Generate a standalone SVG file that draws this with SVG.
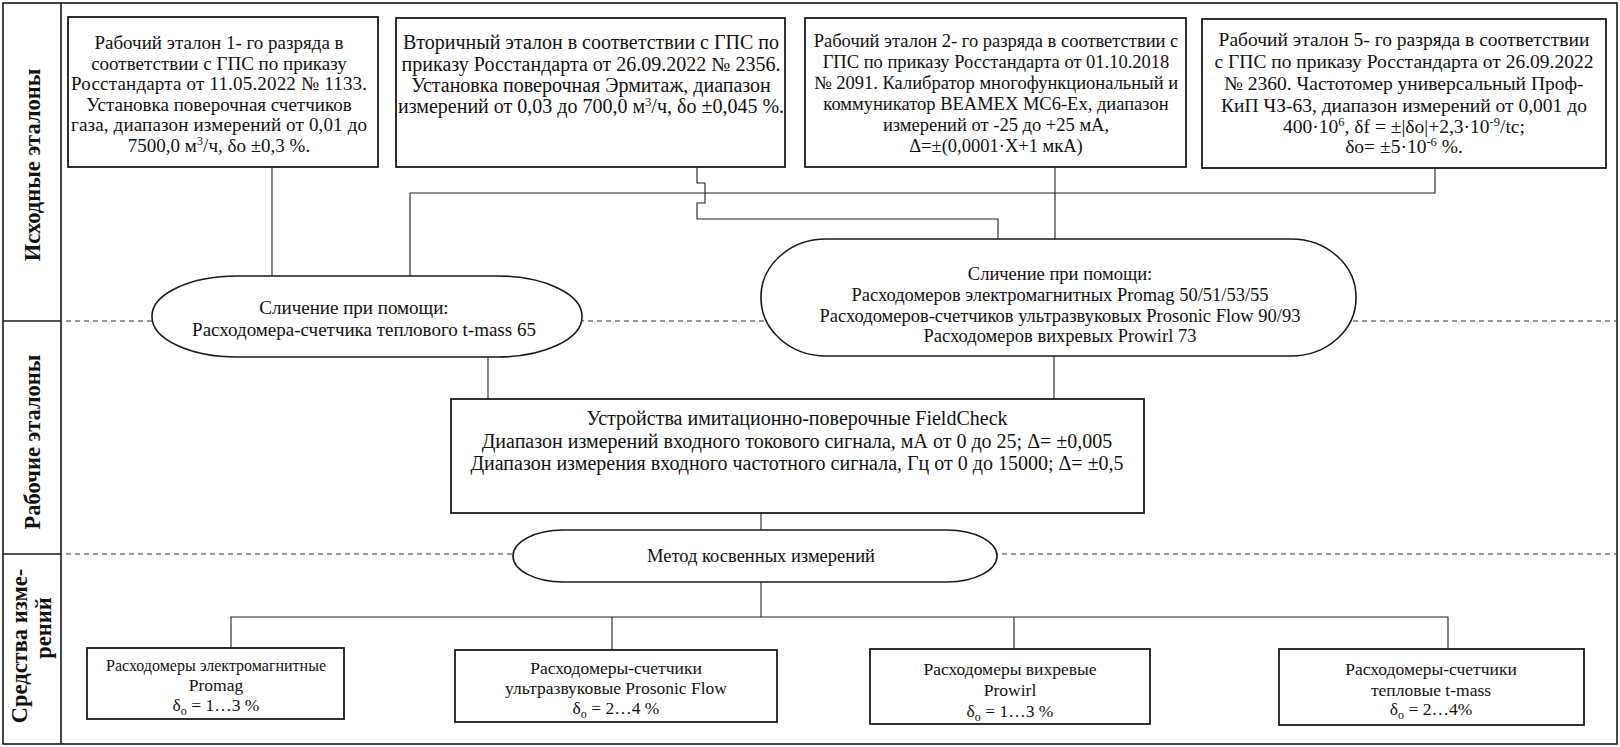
<svg xmlns="http://www.w3.org/2000/svg" width="1620" height="747" viewBox="0 0 1620 747">
<style>
.bx{fill:#fff;stroke:#1a1a1a;stroke-width:1.8}
.el{fill:#fff;stroke:#1a1a1a;stroke-width:1.6}
.cn{fill:none;stroke:#222;stroke-width:1.1}
.dash{fill:none;stroke:#333;stroke-width:1;stroke-dasharray:5 4}
.fr{fill:none;stroke:#1a1a1a;stroke-width:1.6}
text{font-family:"Liberation Serif","Times New Roman",serif;font-size:18.5px;fill:#111;text-anchor:middle}
text.lbl{font-weight:bold;font-size:22.5px}
.t19 text{font-size:19px}
.t195 text{font-size:19.5px}
.t20 text{font-size:20px}
.sm text{font-size:17.5px}
tspan.sup{font-size:12.5px}
tspan.sub{font-size:12px}
</style>
<rect x="0" y="0" width="1620" height="747" fill="#fff"/>
<g id="frame">
<rect class="fr" x="3" y="3" width="1614" height="741"/>
<line class="fr" x1="61" y1="3" x2="61" y2="744"/>
<line class="fr" x1="3" y1="321" x2="61" y2="321"/>
<line class="fr" x1="3" y1="554" x2="61" y2="554"/>
<line class="dash" x1="66" y1="321" x2="1617" y2="321"/>
<line class="dash" x1="66" y1="554" x2="1617" y2="554"/>
<text class="lbl" transform="translate(32,165) rotate(-90)" y="8">Исходные эталоны</text>
<text class="lbl" transform="translate(32,442) rotate(-90)" y="8">Рабочие эталоны</text>
<text class="lbl" transform="translate(19,646) rotate(-90)" y="8">Средства изме-</text>
<text class="lbl" transform="translate(43,628) rotate(-90)" y="8">рений</text>
</g>
<g id="connectors">
<polyline class="cn" points="272,167 272,276"/>
<polyline class="cn" points="1435,168 1435,193 410,193 410,276"/>
<polyline class="cn" points="697,167 697,183 705,183 705,203 697,203 697,219 998,219 998,239"/>
<polyline class="cn" points="1055,167 1055,239"/>
<polyline class="cn" points="488,357 488,399"/>
<polyline class="cn" points="1054,356 1054,399"/>
<polyline class="cn" points="761,513 761,530"/>
<polyline class="cn" points="761,582 761,617"/>
<polyline class="cn" points="231,648 231,617 1448,617 1448,649"/>
<polyline class="cn" points="612,617 612,650"/>
<polyline class="cn" points="1014,617 1014,649"/>
</g>
<g id="src1" class="t19">
<rect class="bx" x="68" y="17" width="310" height="150"/>
<text x="219" y="49">Рабочий эталон 1- го разряда в</text>
<text x="219" y="69.5">соответствии с ГПС по приказу</text>
<text x="219" y="90" textLength="296" lengthAdjust="spacing">Росстандарта от 11.05.2022 № 1133.</text>
<text x="219" y="110.5">Установка поверочная счетчиков</text>
<text x="219" y="131" textLength="296" lengthAdjust="spacing">газа, диапазон измерений от 0,01 до</text>
<text x="219" y="151.5">7500,0 м<tspan class="sup" dy="-7">3</tspan><tspan dy="7">/ч, δо ±0,3 %.</tspan></text>
</g>
<g id="src2" class="t20">
<rect class="bx" x="396" y="18" width="389" height="149"/>
<text x="591" y="49">Вторичный эталон в соответствии с ГПС по</text>
<text x="591" y="70.5">приказу Росстандарта от 26.09.2022 № 2356.</text>
<text x="591" y="92">Установка поверочная Эрмитаж, диапазон</text>
<text x="591" y="113">измерений от 0,03 до 700,0 м<tspan class="sup" dy="-7">3</tspan><tspan dy="7">/ч, δо ±0,045 %.</tspan></text>
</g>
<g id="src3">
<rect class="bx" x="805" y="18" width="381" height="149"/>
<text x="996" y="47">Рабочий эталон 2- го разряда в соответствии с</text>
<text x="996" y="68">ГПС по приказу Росстандарта от 01.10.2018</text>
<text x="996" y="89">№ 2091. Калибратор многофункциональный и</text>
<text x="996" y="110">коммуникатор BEAMEX MC6-Ex, диапазон</text>
<text x="996" y="131">измерений от -25 до +25 мА,</text>
<text x="996" y="152">Δ=±(0,0001·X+1 мкА)</text>
</g>
<g id="src4" class="t195">
<rect class="bx" x="1202" y="19" width="404" height="149"/>
<text x="1404" y="46">Рабочий эталон 5- го разряда в соответствии</text>
<text x="1404" y="68">с ГПС по приказу Росстандарта от 26.09.2022</text>
<text x="1404" y="90">№ 2360. Частотомер универсальный Проф-</text>
<text x="1404" y="112">КиП ЧЗ-63, диапазон измерений от 0,001 до</text>
<text x="1404" y="133">400·10<tspan class="sup" dy="-7">6</tspan><tspan dy="7">, δf = ±|δо|+2,3·10</tspan><tspan class="sup" dy="-7">-9</tspan><tspan dy="7">/tc;</tspan></text>
<text x="1404" y="153">δо= ±5·10<tspan class="sup" dy="-7">-6</tspan><tspan dy="7"> %.</tspan></text>
</g>
<g id="cmp1" class="t19">
<rect class="el" x="152" y="276" width="430" height="81" rx="85" ry="40"/>
<text x="354" y="314">Сличение при помощи:</text>
<text x="364" y="336">Расходомера-счетчика теплового t-mass 65</text>
</g>
<g id="cmp2">
<rect class="el" x="761" y="239" width="595" height="117" rx="65" ry="58"/>
<text x="1060" y="280">Сличение при помощи:</text>
<text x="1060" y="301">Расходомеров электромагнитных Promag 50/51/53/55</text>
<text x="1060" y="321.5">Расходомеров-счетчиков ультразвуковых Prosonic Flow 90/93</text>
<text x="1060" y="342">Расходомеров вихревых Prowirl 73</text>
</g>
<g id="fieldcheck" class="t20">
<rect class="bx" x="451" y="399" width="693" height="114"/>
<text x="797" y="425">Устройства имитационно-поверочные FieldCheck</text>
<text x="797" y="447.5">Диапазон измерений входного токового сигнала, мА от 0 до 25; Δ= ±0,005</text>
<text x="797" y="470">Диапазон измерения входного частотного сигнала, Гц от 0 до 15000;  Δ= ±0,5</text>
</g>
<g id="method">
<rect class="el" x="513" y="530" width="484" height="52" rx="50" ry="26"/>
<text x="761" y="562">Метод косвенных измерений</text>
</g>
<g id="dev1" class="sm">
<rect class="bx" x="87" y="648" width="257" height="71"/>
<text x="216" y="671" textLength="220" lengthAdjust="spacingAndGlyphs">Расходомеры электромагнитные</text>
<text x="216" y="691">Promag</text>
<text x="216" y="711">δ<tspan class="sub" dy="4">о</tspan><tspan dy="-4"> = 1…3 %</tspan></text>
</g>
<g id="dev2" class="sm">
<rect class="bx" x="455" y="650" width="322" height="72"/>
<text x="616" y="674">Расходомеры-счетчики</text>
<text x="616" y="694">ультразвуковые Prosonic Flow</text>
<text x="616" y="714">δ<tspan class="sub" dy="4">о</tspan><tspan dy="-4"> = 2…4 %</tspan></text>
</g>
<g id="dev3" class="sm">
<rect class="bx" x="870" y="649" width="280" height="75"/>
<text x="1010" y="675">Расходомеры вихревые</text>
<text x="1010" y="696">Prowirl</text>
<text x="1010" y="717">δ<tspan class="sub" dy="4">о</tspan><tspan dy="-4"> = 1…3 %</tspan></text>
</g>
<g id="dev4" class="sm">
<rect class="bx" x="1279" y="649" width="305" height="76"/>
<text x="1431" y="675">Расходомеры-счетчики</text>
<text x="1431" y="696">тепловые t-mass</text>
<text x="1431" y="715">δ<tspan class="sub" dy="4">о</tspan><tspan dy="-4"> = 2…4%</tspan></text>
</g>
</svg>
